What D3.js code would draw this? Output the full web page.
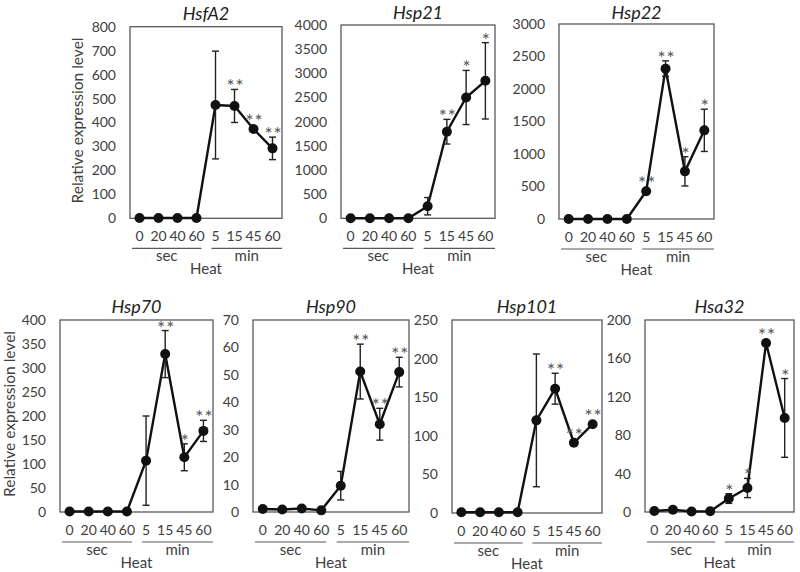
<!DOCTYPE html>
<html>
<head>
<meta charset="utf-8">
<script src="https://cdn.jsdelivr.net/npm/d3@7"></script>
<style>
  html, body { margin: 0; padding: 0; background: #fff; }
  svg { display: block; font-family: Lato, "Open Sans", sans-serif; }
</style>
</head>
<body>
<svg id="chart" width="800" height="572"></svg>
<script>
// ---- data ----
const xLabels = ["0", "20", "40", "60", "5", "15", "45", "60"];
const genes = ["HsfA2", "Hsp21", "Hsp22", "Hsp70", "Hsp90", "Hsp101", "Hsa32"];
const yMaxes = [800, 4000, 3000, 400, 70, 250, 200];
const yTickSteps = [100, 500, 500, 50, 10, 50, 40];

const hsfA2Mean = [1, 1, 1, 1, 473, 469, 373, 292];
const hsfA2Err = [0, 0, 0, 0, 225, 69, 8, 47];
const hsfA2Stars = ["", "", "", "", "", "**", "**", "**"];

const hsp21Mean = [1, 1, 1, 1, 250, 1792, 2500, 2845];
const hsp21Err = [0, 0, 0, 0, 180, 255, 560, 790];
const hsp21Stars = ["", "", "", "", "", "**", "*", "*"];

const hsp22Mean = [1, 1, 1, 1, 426, 2313, 733, 1364];
const hsp22Err = [0, 0, 0, 0, 15, 120, 225, 325];
const hsp22Stars = ["", "", "", "", "**", "**", "*", "*"];

const hsp70Mean = [1, 1, 1, 1, 107, 329, 114, 169];
const hsp70Err = [0, 0, 0, 0, 93, 49, 28, 22];
const hsp70Stars = ["", "", "", "", "", "**", "*", "**"];

const hsp90Mean = [1.1, 0.9, 1.3, 0.6, 9.6, 51.2, 32, 51];
const hsp90Err = [0.3, 0.2, 0.3, 0.1, 5.2, 10, 5.8, 5.4];
const hsp90Stars = ["", "", "", "", "", "**", "**", "**"];

const hsp101Mean = [1, 1, 1, 1, 120, 161, 91, 115];
const hsp101Err = [0, 0, 0, 0, 86, 20, 2, 3];
const hsp101Stars = ["", "", "", "", "", "**", "**", "**"];

const hsa32Mean = [1, 2.4, 0.5, 0.7, 14, 25, 176, 98];
const hsa32Err = [0.3, 0.5, 0.2, 0.2, 5, 10, 3, 41];
const hsa32Stars = ["", "", "", "", "*", "*", "**", "*"];

const means = [hsfA2Mean, hsp21Mean, hsp22Mean, hsp70Mean, hsp90Mean, hsp101Mean, hsa32Mean];
const errs = [hsfA2Err, hsp21Err, hsp22Err, hsp70Err, hsp90Err, hsp101Err, hsa32Err];
const stars = [hsfA2Stars, hsp21Stars, hsp22Stars, hsp70Stars, hsp90Stars, hsp101Stars, hsa32Stars];

// ---- layout (frames: left, top, width, height) ----
const frames = [
  [130, 26.7, 152, 191.6],
  [341, 25, 154, 193.3],
  [559, 24, 155, 195],
  [60, 320, 153, 192],
  [253, 320, 156, 192],
  [452, 320, 150, 193],
  [645, 320, 149, 192]
];
const showYLabel = [true, false, false, true, false, false, false];

const textColor = "#404040";
const frameColor = "#595959";
const svg = d3.select("#chart");

genes.forEach((gene, gi) => {
  const [fx, fy, fw, fh] = frames[gi];
  const g = svg.append("g");
  const idx = d3.range(xLabels.length);
  const x = d3.scaleBand().domain(idx).range([fx, fx + fw]).paddingInner(0).paddingOuter(0);
  const cx = i => x(i) + x.bandwidth() / 2;
  const y = d3.scaleLinear().domain([0, yMaxes[gi]]).range([fy + fh, fy]);
  const ticks = d3.range(0, yMaxes[gi] + 1e-9, yTickSteps[gi]);

  // y axis labels (no tick marks)
  const yAxis = d3.axisLeft(y).tickValues(ticks).tickSize(0).tickPadding(14).tickFormat(d3.format("d"));
  const ya = g.append("g").attr("transform", `translate(${fx},0)`).call(yAxis);
  ya.select(".domain").remove();
  ya.selectAll("text").attr("fill", textColor).style("font-size", "14px").style("font-family", "Lato, sans-serif");

  // frame
  g.append("rect").attr("x", fx).attr("y", fy).attr("width", fw).attr("height", fh)
    .attr("fill", "none").attr("stroke", frameColor).attr("stroke-width", 1.3);

  // x tick labels
  const xAxis = d3.axisBottom(x).tickSize(0).tickPadding(13).tickFormat(i => xLabels[i]);
  const xa = g.append("g").attr("transform", `translate(0,${fy + fh})`).call(xAxis);
  xa.select(".domain").remove();
  xa.selectAll("text").attr("fill", textColor).style("font-size", "14px").style("font-family", "Lato, sans-serif");

  // grouping lines
  const base = fy + fh;
  const bw = x.bandwidth();
  const groups = [
    { label: "sec", x1: fx + 2, x2: x(3) + bw / 2 + 5 },
    { label: "min", x1: x(4) + bw / 2 - 4, x2: fx + fw }
  ];
  groups.forEach(gr => {
    g.append("line").attr("x1", gr.x1).attr("x2", gr.x2).attr("y1", base + 30).attr("y2", base + 30)
      .attr("stroke", frameColor).attr("stroke-width", 1.2);
    g.append("text").attr("x", (gr.x1 + gr.x2) / 2).attr("y", base + 43)
      .attr("text-anchor", "middle").attr("fill", textColor).style("font-size", "15px").text(gr.label);
  });
  g.append("text").attr("x", fx + fw / 2).attr("y", base + 56).attr("text-anchor", "middle")
    .attr("fill", textColor).style("font-size", "15px").text("Heat");

  // title
  g.append("text").attr("x", fx + fw / 2).attr("y", Math.max(fy - 7, 19)).attr("text-anchor", "middle")
    .attr("fill", "#222").style("font-size", "18px").style("font-style", "italic").text(gene);

  // y label
  if (showYLabel[gi]) {
    const lx = gi === 0 ? 83 : 15;
    g.append("text").attr("transform", `translate(${lx},${fy + fh / 2 - 2}) rotate(-90)`)
      .attr("text-anchor", "middle").attr("fill", textColor).style("font-size", "15.5px")
      .text("Relative expression level");
  }

  const m = means[gi], e = errs[gi], s = stars[gi];

  // line
  const line = d3.line().x((d, i) => cx(i)).y(d => y(d));
  g.append("path").datum(m).attr("d", line).attr("fill", "none").attr("stroke", "#111").attr("stroke-width", 2.4);

  // error bars
  idx.forEach(i => {
    if (e[i] <= 0) return;
    const yt = y(m[i] + e[i]), yb = y(Math.max(0, m[i] - e[i]));
    g.append("line").attr("x1", cx(i)).attr("x2", cx(i)).attr("y1", yt).attr("y2", yb)
      .attr("stroke", "#222").attr("stroke-width", 1.4);
    [yt, yb].forEach(yy => {
      g.append("line").attr("x1", cx(i) - 3.5).attr("x2", cx(i) + 3.5).attr("y1", yy).attr("y2", yy)
        .attr("stroke", "#222").attr("stroke-width", 1.4);
    });
  });

  // markers
  g.selectAll("circle.pt").data(m).enter().append("circle")
    .attr("cx", (d, i) => cx(i)).attr("cy", d => y(d)).attr("r", 5).attr("fill", "#111");

  // significance stars
  idx.forEach(i => {
    if (!s[i]) return;
    const top = Math.min(y(m[i] + e[i]), y(m[i]) - 5);
    g.append("text").attr("x", cx(i) + 1).attr("y", top + 4).attr("text-anchor", "middle")
      .attr("fill", "#555").style("font-size", "19px").style("letter-spacing", "1px").text(s[i]);
  });
});
</script>
</body>
</html>
